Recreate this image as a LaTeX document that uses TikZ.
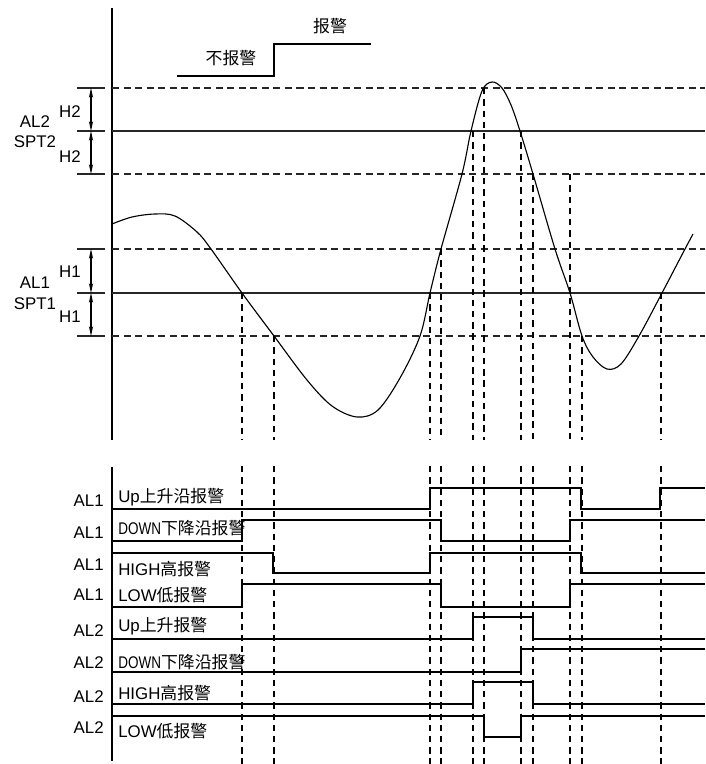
\documentclass[tikz,border=0pt]{standalone}
\usepackage{fontspec}
\setmainfont{Liberation Sans}
\newfontfamily\cjk{Noto Sans CJK SC}
\usetikzlibrary{arrows.meta}
\newcommand{\dn}{\scalebox{0.8}[1]{DOWN}}

\begin{document}
\begin{tikzpicture}[x=0.025cm, y=-0.025cm,
    axisline/.style={line width=1.5pt},
    refline/.style={line width=0.8pt, black!85},
    hystline/.style={line width=0.8pt, black!85, dash pattern=on 5pt off 3.2pt},
    guide/.style={line width=1pt, dash pattern=on 4.5pt off 3.5pt},
    sig/.style={line width=1.3pt},
    dim/.style={line width=0.8pt,
                {Stealth[length=7pt,width=3pt]}-{Stealth[length=7pt,width=3pt]}},
    lbl/.style={font=\fontsize{12}{14}\selectfont, inner sep=0pt},
    alname/.style={lbl, anchor=east},
    altext/.style={lbl, anchor=west},
]
\useasboundingbox (0,0) rectangle (705,764);

% axes
\draw[axisline] (112,8) -- (112,440);
\draw[axisline] (112,467) -- (112,761);

% legend
\draw[sig] (177,76) -| (274,44) -- (371,44);
\node[lbl] (noalarm) at (231,58) {\cjk 不报警};
\node[lbl] (alarm) at (330,26) {\cjk 报警};

% AL2 band
\draw[hystline] (112,88) -- (705,88);
\draw[refline] (112,131) -- (705,131);
\draw[hystline] (112,174) -- (705,174);
\foreach \y in {88,131,174}
    \draw[refline] (77,\y) -- (105,\y);
\draw[dim] (91,88) -- (91,131);
\draw[dim] (91,131) -- (91,174);
\node[lbl] (al2) at (35,122) {AL2};
\node[lbl] (spt2) at (35,142) {SPT2};
\node[lbl] (h2a) at (70,112) {H2};
\node[lbl] (h2b) at (70,157) {H2};

% AL1 band
\draw[hystline] (112,249) -- (705,249);
\draw[refline] (112,293) -- (705,293);
\draw[hystline] (112,336) -- (705,336);
\foreach \y in {249,293,336}
    \draw[refline] (77,\y) -- (105,\y);
\draw[dim] (91,249) -- (91,293);
\draw[dim] (91,293) -- (91,336);
\node[lbl] (al1) at (35,283) {AL1};
\node[lbl] (spt1) at (35,304) {SPT1};
\node[lbl] (h1a) at (70,272) {H1};
\node[lbl] (h1b) at (70,317) {H1};

% process value
\draw[line width=0.8pt] plot[smooth, tension=0.55] coordinates {
    (112,224) (132,217) (155,214) (175,216) (197,232) (211,249)
    (242,293) (274,336) (307,380) (332,406) (357,417) (378,410)
    (400,378) (420,336) (430,293) (441,249) (462,174) (471,131)
    (482,91) (492,82) (502,88) (511,105) (520,131) (533,174)
    (555,249) (570,293) (582,336) (593,357) (607,369) (621,364)
    (639,336) (662,293) (685,249) (693,234)};

% guide lines
\foreach \x/\y in {242/293, 274/336, 430/293, 441/249, 473/131, 484/88,
                   521/131, 533/174, 570/174, 582/336, 661/293} {
    \draw[guide] (\x,\y) -- (\x,440);
    \draw[guide] (\x,466) -- (\x,764);
}

% AL1 outputs
\node[alname] (n1) at (104,501) {AL1};
\node[altext] (t1) at (118,497) {Up{\cjk 上升沿报警}};
\draw[sig] (112,509) -| (430,488) -| (581,509) -| (660,488) -- (705,488);

\node[alname] (n2) at (104,533) {AL1};
\node[altext] (t2) at (118,528) {\dn{\cjk 下降沿报警}};
\draw[sig] (112,541) -| (242,520) -| (441,541) -| (570,520) -- (705,520);

\node[alname] (n3) at (104,565) {AL1};
\node[altext] (t3) at (118,569) {HIGH{\cjk 高报警}};
\draw[sig] (112,553) -| (273,573) -| (430,553) -| (581,573) -- (705,573);

\node[alname] (n4) at (104,595) {AL1};
\node[altext] (t4) at (118,595) {LOW{\cjk 低报警}};
\draw[sig] (112,607) -| (242,584) -| (441,607) -| (570,584) -- (705,584);

% AL2 outputs
\node[alname] (n5) at (104,631) {AL2};
\node[altext] (t5) at (118,626) {Up{\cjk 上升报警}};
\draw[sig] (112,639) -| (473,617) -| (533,639) -- (705,639);

\node[alname] (n6) at (104,663) {AL2};
\node[altext] (t6) at (118,662) {\dn{\cjk 下降沿报警}};
\draw[sig] (112,672) -| (521,649) -- (705,649);

\node[alname] (n7) at (104,697) {AL2};
\node[altext] (t7) at (118,693) {HIGH{\cjk 高报警}};
\draw[sig] (112,704) -| (473,682) -| (533,704) -- (705,704);

\node[alname] (n8) at (104,728) {AL2};
\node[altext] (t8) at (118,731) {LOW{\cjk 低报警}};
\draw[sig] (112,716) -| (484,737) -| (521,716) -- (705,716);
\end{tikzpicture}
\end{document}
